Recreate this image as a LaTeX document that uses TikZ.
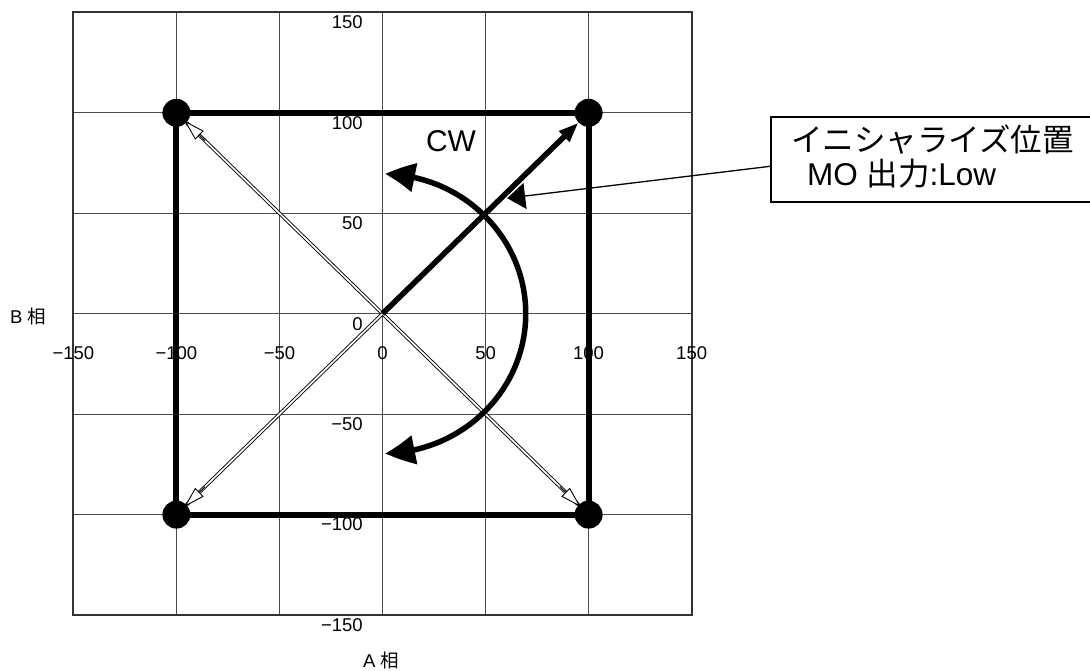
\documentclass[tikz,border=0pt]{standalone}
\usepackage{fontspec}
\setmainfont{Liberation Sans}
\newfontfamily\jp{Noto Sans CJK JP}
\usetikzlibrary{arrows.meta,calc,bending}
\begin{document}
\begin{tikzpicture}[x=1pt,y=-1pt,
  gridline/.style={black!70,line width=1pt},
  frameline/.style={black!80,line width=2pt},
  sqline/.style={line width=6pt,line cap=rect},
  dotnode/.style={circle,fill=black,minimum size=28pt,inner sep=0pt},
  dblline/.style={line width=0.9pt,double=white,double distance=1.7pt},
  openhead/.style={line width=0.9pt,-{Triangle[fill=white,length=21pt,width=12pt]}},
  numlbl/.style={inner sep=0pt,font=\fontsize{18.5}{20}\selectfont},
  biglbl/.style={inner sep=0pt,font=\fontsize{30}{32}\selectfont},
  boxlbl/.style={inner sep=0pt,font=\fontsize{31.5}{33}\selectfont},
]
\useasboundingbox (0,0) rectangle (1090,670);
\begin{scope}[shift={(382.5,313.7)},x=2.061pt,y=2.009pt]
  % grid
  \foreach \v in {-100,-50,0,50,100}{
    \draw[gridline] (\v,-150) -- (\v,150);
    \draw[gridline] (-150,\v) -- (150,\v);}
  \draw[frameline] (-150,-150) rectangle (150,150);
  % tick labels
  \foreach \v/\t [count=\i] in {150/150,100/100,50/50,0/0,-50/−50,-100/−100,-150/−150}{
    \node[numlbl,anchor=east,yshift=-10pt] (yl\i) at (-9.5,\v) {\t};
    \node[numlbl] (xl\i) at (\v,-19.6) {\t};}
  \coordinate (O) at (0,0);
  \coordinate (tip) at (60.5,57.5);
  % corner dots
  \node[dotnode] (dtl) at (-100,100) {};
  \node[dotnode] (dtr) at (100,100) {};
  \node[dotnode] (dbr) at (100,-100) {};
  \node[dotnode] (dbl) at (-100,-100) {};
  % thick square
  \draw[sqline] (dtl.center) -- (dtr.center) -- (dbr.center) -- (dbl.center) -- cycle;
  % double-line arrows
  \draw[dblline] (dtl) -- (dbr);
  \draw[dblline] (O) -- (dbl);
  \draw[openhead,shorten >=-3pt] ($(dtl.center)!40pt!(dbr.center)$) -- (dtl);
  \draw[openhead,shorten >=-3pt] ($(dbr.center)!40pt!(dtl.center)$) -- (dbr);
  \draw[openhead,shorten >=-3pt] ($(dbl.center)!40pt!(O)$) -- (dbl);
  % thick arrow to initial position
  \draw[line width=5.5pt,-{Triangle[length=20pt,width=14pt]}] (O) -- (dtr);
  % CW arc
  \draw[line width=5.5pt,{Triangle[length=30pt,width=28pt,bend]}-{Triangle[length=30pt,width=28pt,bend]}]
    (89:69.5) arc[start angle=89,end angle=-89,radius=69.5];
\end{scope}
% labels
\node[biglbl] (cw) at (451,141) {CW};
\node[numlbl] (blab) at (28,316) {B {\jp 相}};
\node[numlbl] (alab) at (381,660) {A {\jp 相}};
% callout box
\node[minimum width=319pt,minimum height=85pt,anchor=north west,inner sep=0pt] (box) at (771,117) {};
\draw[line width=2pt] (box.north east) -- (box.north west) -- (box.south west) -- (box.south east);
\node[boxlbl,anchor=base west] (l1) at (791,151) {\jp イニシャライズ位置};
\node[boxlbl,anchor=base west] (l2) at (807,185) {MO {\jp 出力}:Low};
\draw[line width=1.3pt,-{Triangle[length=18pt,width=26pt]}] ($(box.west)+(0,6.5)$) -- (tip);
\end{tikzpicture}
\end{document}
